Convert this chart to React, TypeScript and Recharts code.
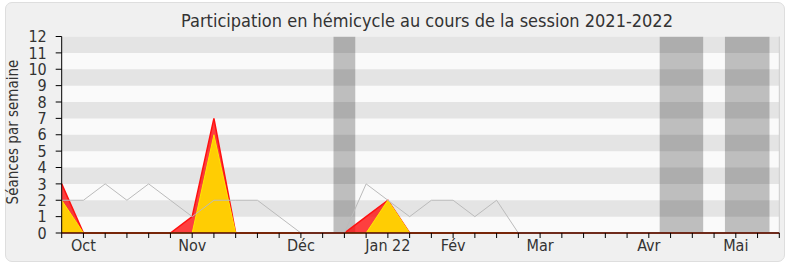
import React from 'react';
import {
  ComposedChart, Area, Line, XAxis, YAxis, ReferenceArea, ReferenceLine,
} from 'recharts';

const weeks = Array.from({ length: 34 }, (_, i) => i);
const totalSeances = [2, 2, 3, 2, 3, 2, 1, 2, 2, 2, 1, 0, 0, 0, 3, 2, 1, 2, 2, 1, 2, 0, 0, 0, 0, 0, 0, 0, 0, 0, 0, 0, 0, 0];
const presences = [3, 0, 0, 0, 0, 0, 1, 7, 0, 0, 0, 0, 0, 0, 1, 2, 0, 0, 0, 0, 0, 0, 0, 0, 0, 0, 0, 0, 0, 0, 0, 0, 0, 0];
const interventions = [2, 0, 0, 0, 0, 0, 0, 6, 0, 0, 0, 0, 0, 0, 0, 2, 0, 0, 0, 0, 0, 0, 0, 0, 0, 0, 0, 0, 0, 0, 0, 0, 0, 0];

const monthWeeks = [1, 6, 11, 15, 18, 22, 27, 31];
const monthLabels = ['Oct', 'Nov', 'Déc', 'Jan 22', 'Fév', 'Mar', 'Avr', 'Mai'];

const holidayStarts = [12.5, 27.5, 30.5];
const holidayEnds = [13.5, 29.5, 32.55];

const yTicks = [0, 1, 2, 3, 4, 5, 6, 7, 8, 9, 10, 11, 12];
const stripeStarts = [1, 3, 5, 7, 9, 11];

const data = weeks.map((w, i) => ({
  week: w,
  total: totalSeances[i],
  presence: presences[i],
  intervention: interventions[i],
}));

const FONT = "'DejaVu Sans Condensed', 'DejaVu Sans', sans-serif";

const formatWeek = (v: number) => {
  const idx = monthWeeks.indexOf(v);
  return idx >= 0 ? monthLabels[idx] : '';
};

export default function App() {
  return (
    <div style={{ position: 'absolute', left: 0, top: 0, width: 790, height: 267, background: '#fff' }}>
      <div
        style={{
          position: 'absolute', left: 5, top: 2, width: 778, height: 258,
          background: '#f0f0f0', border: '1px solid #dedede', borderRadius: 7,
        }}
      />
      <div style={{ position: 'absolute', left: 0, top: 0 }}>
        <ComposedChart
          width={790}
          height={267}
          data={data}
          margin={{ top: 36.5, right: 10.7, bottom: 4, left: 0 }}
        >
          <ReferenceArea x1={0} x2={33} y1={0} y2={12} fill="#fafafa" fillOpacity={1} stroke="none" ifOverflow="hidden" />
          {holidayStarts.map((s, i) => (
            <ReferenceArea key={'h' + i} x1={s} x2={holidayEnds[i]} y1={0} y2={12} fill="#bebebe" fillOpacity={1} stroke="none" ifOverflow="hidden" />
          ))}
          {stripeStarts.map((s) => (
            <ReferenceArea key={'s' + s} x1={0} x2={33} y1={s} y2={s + 1} fill="#000" fillOpacity={0.085} stroke="none" ifOverflow="hidden" />
          ))}
          <ReferenceLine x={33} stroke="#cccccc" strokeWidth={1} />
          <XAxis
            xAxisId="top"
            orientation="top"
            dataKey="week"
            type="number"
            domain={[0, 33]}
            ticks={weeks}
            interval={0}
            height={0}
            tick={false}
            tickSize={2}
            axisLine={false}
            tickLine={{ stroke: '#000' }}
          />
          <Line
            type="linear"
            dataKey="total"
            stroke="#bbbbbb"
            strokeWidth={1}
            dot={false}
            isAnimationActive={false}
          />
          <Area
            type="linear"
            dataKey="presence"
            stroke="#ff1010"
            strokeWidth={1.5}
            fill="#ff0000"
            fillOpacity={0.75}
            isAnimationActive={false}
          />
          <Area
            type="linear"
            dataKey="intervention"
            stroke="#ffe800"
            strokeWidth={1}
            fill="#ffd500"
            fillOpacity={0.95}
            isAnimationActive={false}
          />
          <XAxis
            dataKey="week"
            type="number"
            domain={[0, 33]}
            ticks={weeks}
            interval={0}
            height={30}
            tickSize={5}
            tickMargin={2}
            tickFormatter={formatWeek}
            axisLine={{ stroke: '#4a0000', strokeWidth: 1.5 }}
            tickLine={{ stroke: '#000' }}
            tick={{ fill: '#333', fontSize: 16, fontFamily: FONT }}
          />
          <YAxis
            type="number"
            domain={[0, 12]}
            ticks={yTicks}
            interval={0}
            width={61.7}
            tickSize={6}
            tickMargin={9}
            axisLine={{ stroke: '#000' }}
            tickLine={{ stroke: '#000' }}
            tick={{ fill: '#333', fontSize: 16, fontFamily: FONT }}
          />
          <text
            x={427}
            y={26.5}
            textAnchor="middle"
            fill="#333"
            fontSize={18}
            fontFamily={FONT}
          >
            Participation en hémicycle au cours de la session 2021-2022
          </text>
          <text
            x={18}
            y={132}
            transform="rotate(-90 18 132)"
            textAnchor="middle"
            fill="#333"
            fontSize={15}
            fontFamily={FONT}
          >
            Séances par semaine
          </text>
        </ComposedChart>
      </div>
    </div>
  );
}
